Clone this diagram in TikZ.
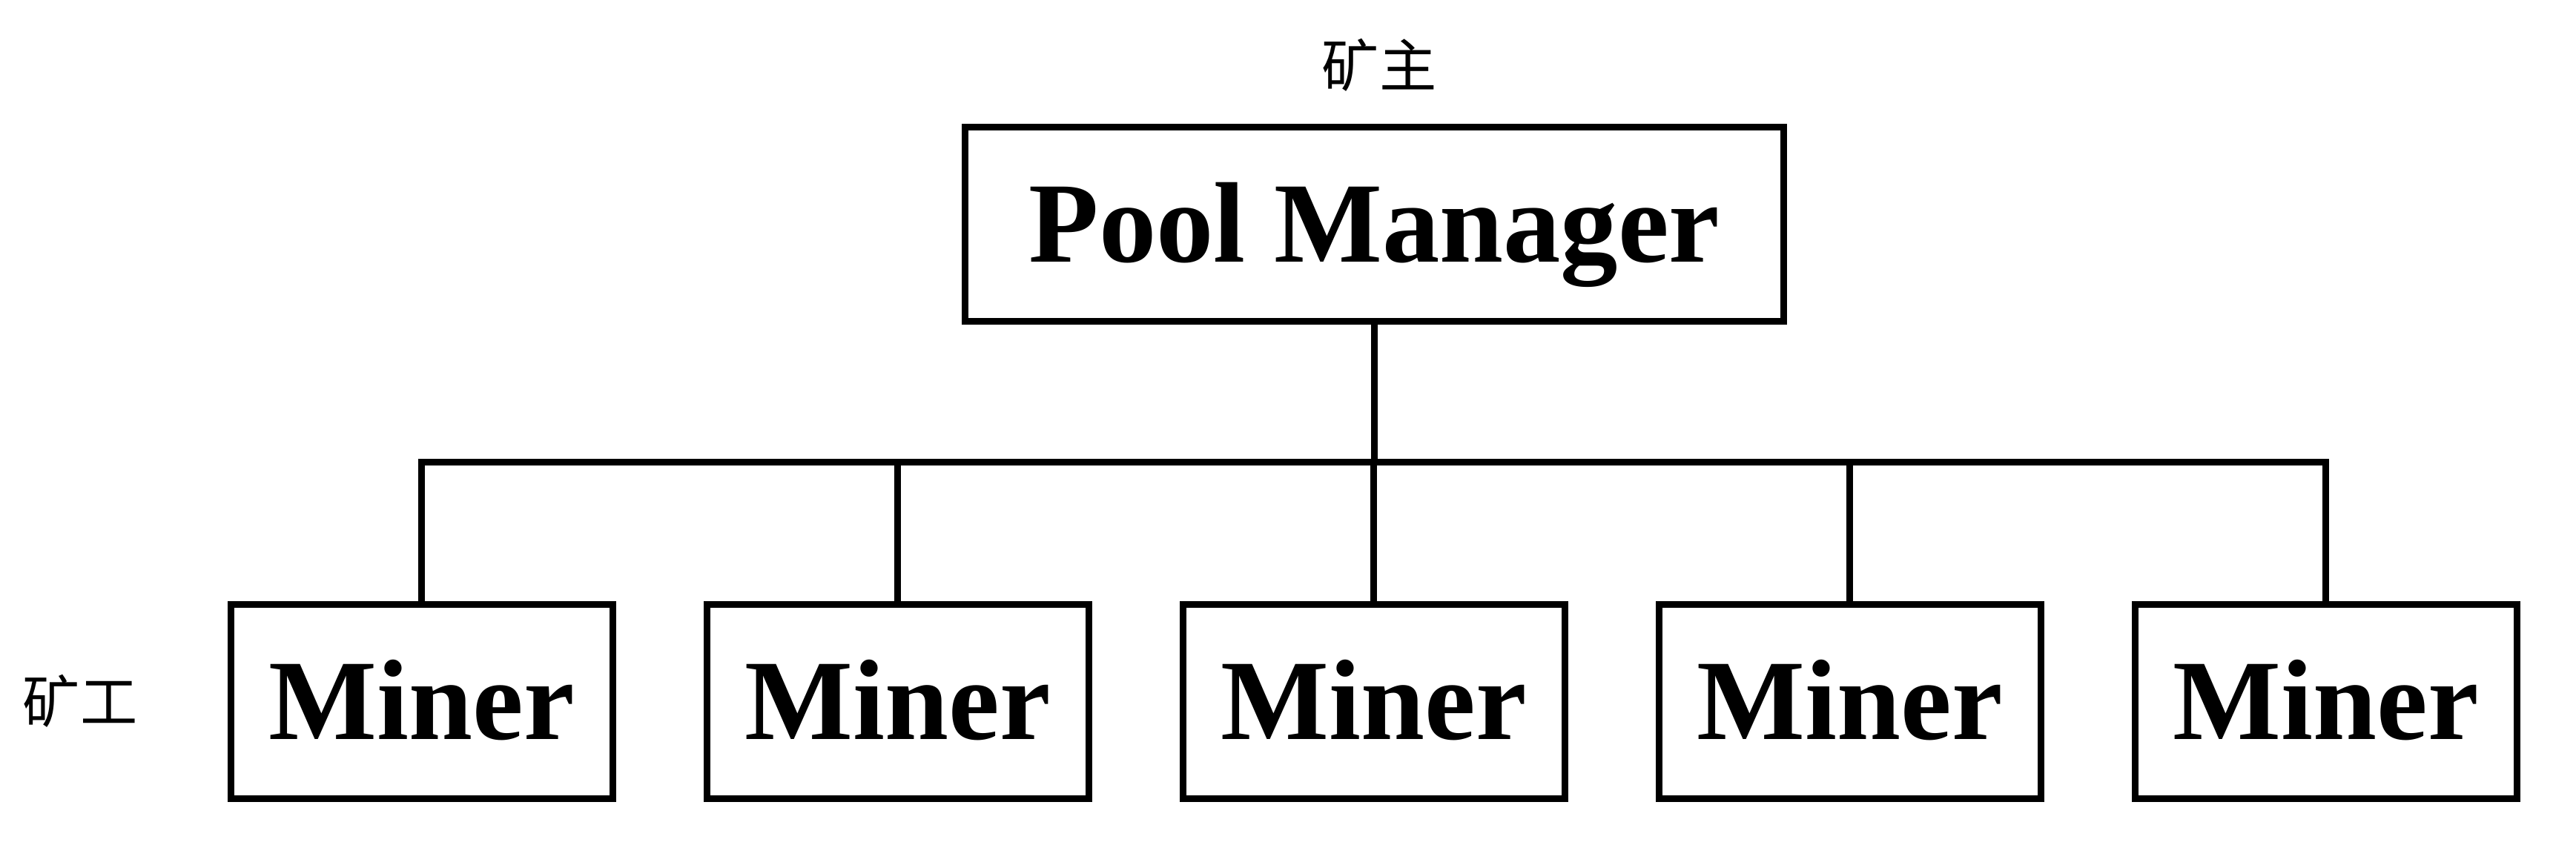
\documentclass[tikz,border=0pt]{standalone}
\usepackage{fontspec}
\setmainfont{Liberation Serif}
\newfontfamily\cjk{Noto Sans CJK SC}
\usepackage{tikz}
\usetikzlibrary{positioning}
\tikzset{%
	poolbox/.style  = {draw, rectangle, line width=0.09cm, minimum width=11.04cm, minimum height=2.62cm, inner sep=0pt, text height=1.02cm, text depth=0pt, font=\fontsize{44}{48}\selectfont\bfseries},
	minerbox/.style = {draw, rectangle, line width=0.09cm, minimum width=5.15cm, minimum height=2.62cm, inner sep=0pt, text height=1.02cm, text depth=0pt, font=\fontsize{44}{48}\selectfont\bfseries},
	role/.style     = {inner sep=0pt, font=\cjk\fontsize{22}{24}\selectfont},
	link/.style     = {line width=0.09cm},
}

\begin{document}
\begin{tikzpicture}
		\useasboundingbox (0,0) rectangle (34.74,11.39);
		
		% pool manager
		\node[poolbox] (pool) at (18.535,8.365) {Pool Manager};
		\node[role] (owner) at (18.6,10.51) {矿主};
		
		% miners
		\foreach \i [evaluate=\i as \x using 5.685+6.42*(\i-1)] in {1,...,5}
			\node[minerbox] (miner\i) at (\x,1.925) {Miner};
		\node[role] (worker) at (1.08,1.93) {矿工};
		
		% connectors
		\coordinate (bus) at (18.535,5.155);
		\draw[link] (pool.south) -- (bus);
		\foreach \i in {1,...,5} \draw[link] (miner\i.north) |- (bus);
\end{tikzpicture}
\end{document}
